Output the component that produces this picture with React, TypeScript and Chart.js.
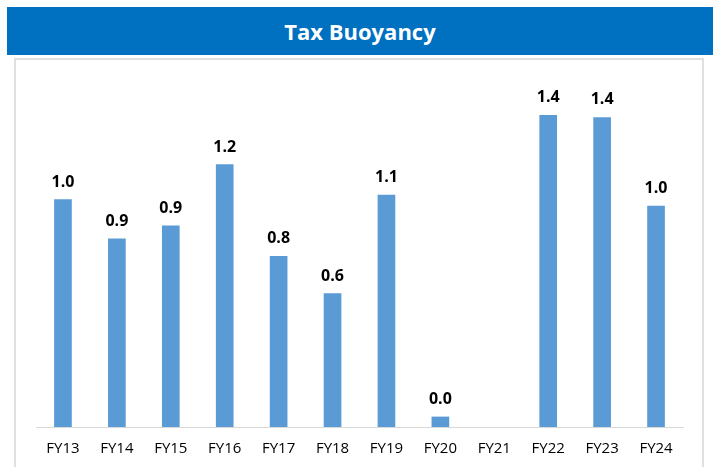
import React, { useEffect, useRef } from "react";
import { Chart, registerables } from "chart.js";

Chart.register(...registerables);

const title = "Tax Buoyancy";
const categories = ["FY13", "FY14", "FY15", "FY16", "FY17", "FY18", "FY19", "FY20", "FY21", "FY22", "FY23", "FY24"];
const buoyancy: (number | null)[] = [1.04, 0.86, 0.92, 1.2, 0.78, 0.61, 1.06, 0.046, null, 1.425, 1.415, 1.01];

const labelPlugin = {
  id: "barValueLabels",
  afterDatasetsDraw(chart: any) {
    const ctx = chart.ctx;
    const meta = chart.getDatasetMeta(0);
    ctx.save();
    ctx.font = "bold 16px 'Open Sans'";
    ctx.fillStyle = "#000000";
    ctx.textAlign = "center";
    ctx.textBaseline = "alphabetic";
    meta.data.forEach((bar: any, i: number) => {
      const v = buoyancy[i];
      if (v === null || v === undefined) return;
      ctx.fillText(v.toFixed(1), bar.x, bar.y - 13);
    });
    ctx.restore();
  },
};

export default function App() {
  const ref = useRef<HTMLCanvasElement>(null);
  useEffect(() => {
    if (!ref.current) return;
    const chart = new Chart(ref.current, {
      type: "bar",
      data: {
        labels: categories,
        datasets: [
          {
            data: buoyancy as any,
            backgroundColor: "#5B9BD5",
            barThickness: 17,
          },
        ],
      },
      options: {
        animation: false,
        responsive: false,
        maintainAspectRatio: false,
        layout: { padding: { left: 36, right: 30, top: 77, bottom: 0 } },
        plugins: { legend: { display: false }, tooltip: { enabled: false }, title: { display: false } },
        scales: {
          x: {
            grid: { display: false, drawTicks: false },
            border: { display: true, color: "#D9D9D9", width: 1 },
            ticks: { color: "#000000", font: { family: "'Open Sans'", size: 15 }, padding: 13, maxRotation: 0 },
            afterFit(scale: any) {
              scale.height = 40;
            },
          },
          y: { display: false, min: 0, max: 1.6 },
        },
      },
      plugins: [labelPlugin],
    });
    return () => chart.destroy();
  }, []);

  return (
    <div style={{ position: "fixed", left: 0, top: 0, width: 713, height: 467, background: "#fff", overflow: "hidden" }}>
      <div
        style={{
          position: "absolute",
          left: 7,
          top: 7,
          width: 706,
          height: 48,
          background: "#0070C0",
          color: "#fff",
          fontFamily: "'Open Sans'",
          fontWeight: 700,
          fontSize: 22,
          lineHeight: "48px",
          textAlign: "center",
        }}
      >
        {title}
      </div>
      <div
        style={{
          position: "absolute",
          left: 14,
          top: 58,
          width: 686,
          height: 430,
          border: "2px solid #E0E0E0",
        }}
      />
      <canvas ref={ref} width={713} height={467} style={{ position: "absolute", left: 0, top: 0 }} />
    </div>
  );
}
